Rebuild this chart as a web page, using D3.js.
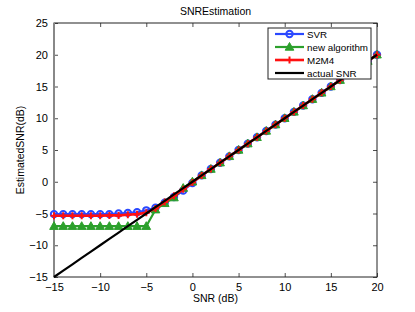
<!DOCTYPE html>
<html>
<head>
<meta charset="utf-8">
<script src="https://cdn.jsdelivr.net/npm/d3@7"></script>
<style>
  body { margin: 0; background: #fff; }
  text { font-family: "Liberation Sans", Arial, sans-serif; }
</style>
</head>
<body>
<svg id="chart" width="415" height="312"></svg>
<script>
const snr = d3.range(-15, 21);
const svr = [-5.1, -5.1, -5.1, -5.1, -5.1, -5.1, -5.1, -5.0, -4.9, -4.8, -4.5, -4.1, -3.3, -2.4, -1.4, -0.2,
  1, 2, 3, 4, 5, 6, 7, 8, 9, 10, 11, 12, 13, 14, 15, 16, 17, 18, 19, 20];
const newAlg = [-7.0, -7.0, -7.0, -7.0, -7.0, -7.0, -7.0, -7.0, -7.0, -7.0, -7.0, -4.4, -3.4, -2.5, -1.0, 0,
  1, 2, 3, 4, 5, 6, 7, 8, 9, 10, 11, 12, 13, 14, 15, 16, 17, 18, 19, 20];
const m2m4 = [-5.35, -5.35, -5.35, -5.35, -5.35, -5.35, -5.3, -5.3, -5.2, -5.1, -4.9, -4.2, -3.2, -2.2, -1.2, -0.1,
  1, 2, 3, 4, 5, 6, 7, 8, 9, 10, 11, 12, 13, 14, 15, 16, 17, 18, 19, 20];
const actual = snr.slice();
const xTicks = [-15, -10, -5, 0, 5, 10, 15, 20];
const yTicks = [-15, -10, -5, 0, 5, 10, 15, 20, 25];

const svg = d3.select('#chart');
const pLeft = 54, pRight = 377, pTop = 23, pBottom = 277;

const x = d3.scaleLinear().domain([-15, 20]).range([pLeft, pRight]);
const y = d3.scaleLinear().domain([-15, 25]).range([pBottom, pTop]);

const fmt = d => (d < 0 ? '\u2212' + Math.abs(d) : '' + d);

// axes, matlab style with inward ticks
const xAxisB = d3.axisBottom(x).tickValues(xTicks).tickSize(-4).tickPadding(6).tickFormat(fmt);
const xAxisT = d3.axisTop(x).tickValues(xTicks).tickSize(-4).tickFormat('');
const yAxisL = d3.axisLeft(y).tickValues(yTicks).tickSize(-4).tickPadding(6).tickFormat(fmt);
const yAxisR = d3.axisRight(y).tickValues(yTicks).tickSize(-4).tickFormat('');

function styleAxis(g) {
    g.select('.domain').remove();
    g.selectAll('.tick line').attr('stroke', '#222').attr('stroke-width', 0.8);
    g.selectAll('.tick text').attr('fill', '#000').attr('font-size', 11)
        .attr('font-family', '"Liberation Sans", Arial, sans-serif');
}
svg.append('g').attr('transform', `translate(0,${pBottom})`).call(xAxisB).call(styleAxis);
svg.append('g').attr('transform', `translate(0,${pTop})`).call(xAxisT).call(styleAxis);
svg.append('g').attr('transform', `translate(${pLeft},0)`).call(yAxisL).call(styleAxis);
svg.append('g').attr('transform', `translate(${pRight},0)`).call(yAxisR).call(styleAxis);

svg.append('rect')
    .attr('x', pLeft).attr('y', pTop)
    .attr('width', pRight - pLeft).attr('height', pBottom - pTop)
    .attr('fill', 'none').attr('stroke', '#222').attr('stroke-width', 1);
svg.append('line').attr('x1', pLeft).attr('x2', pLeft).attr('y1', pTop).attr('y2', pBottom)
    .attr('stroke', '#888').attr('stroke-width', 2);

const series = [
    { name: 'SVR', vals: svr, color: '#2a48ff', marker: 'circle', w: 2.2 },
    { name: 'new algorithm', vals: newAlg, color: '#2ca02c', marker: 'triangle', w: 2.2 },
    { name: 'M2M4', vals: m2m4, color: '#ff1010', marker: 'plus', w: 2.6 },
    { name: 'actual SNR', vals: actual, color: '#000', marker: 'none', w: 2.2 }
];

const line = d3.line().x(d => x(d[0])).y(d => y(d[1]));

function drawMarker(g, type, color) {
    if (type === 'circle') {
        g.append('circle').attr('r', 3.2).attr('fill', 'none').attr('stroke', color).attr('stroke-width', 2);
    } else if (type === 'triangle') {
        g.append('path').attr('d', 'M0,-4.5L4.3,3.2L-4.3,3.2Z').attr('fill', color).attr('stroke', color).attr('stroke-width', 1);
    } else if (type === 'plus') {
        g.append('path').attr('d', 'M-3.5,0H3.5M0,-3.5V3.5').attr('stroke', color).attr('stroke-width', 2);
    }
}

const plot = svg.append('g');
series.forEach(s => {
    const pts = snr.map((v, i) => [v, s.vals[i]]);
    plot.append('path')
        .datum(pts)
        .attr('d', line)
        .attr('fill', 'none')
        .attr('stroke', s.color)
        .attr('stroke-width', s.w);
    if (s.marker !== 'none') {
        pts.forEach(p => {
            const g = plot.append('g').attr('transform', `translate(${x(p[0])},${y(p[1])})`);
            drawMarker(g, s.marker, s.color);
        });
    }
});

// legend
const lg = svg.append('g').attr('transform', 'translate(268,28)');
lg.append('rect').attr('width', 103).attr('height', 51)
    .attr('fill', '#fff').attr('stroke', '#222').attr('stroke-width', 1);
series.forEach((s, i) => {
    const yy = 6 + i * 13;
    lg.append('line').attr('x1', 7).attr('x2', 36).attr('y1', yy).attr('y2', yy)
        .attr('stroke', s.color).attr('stroke-width', s.w);
    if (s.marker !== 'none') {
        const g = lg.append('g').attr('transform', `translate(21.5,${yy})`);
        drawMarker(g, s.marker, s.color);
    }
    lg.append('text').attr('x', 39).attr('y', yy + 4)
        .attr('font-size', 9.8).text(s.name);
});

svg.append('text').attr('x', (pLeft + pRight) / 2).attr('y', 15)
    .attr('text-anchor', 'middle').attr('font-size', 10.5).text('SNREstimation');
svg.append('text').attr('x', (pLeft + pRight) / 2).attr('y', 302)
    .attr('text-anchor', 'middle').attr('font-size', 10.5).text('SNR (dB)');
svg.append('text').attr('transform', `translate(24,${(pTop + pBottom) / 2}) rotate(-90)`)
    .attr('text-anchor', 'middle').attr('font-size', 10.5).text('EstimatedSNR(dB)');
</script>
</body>
</html>
